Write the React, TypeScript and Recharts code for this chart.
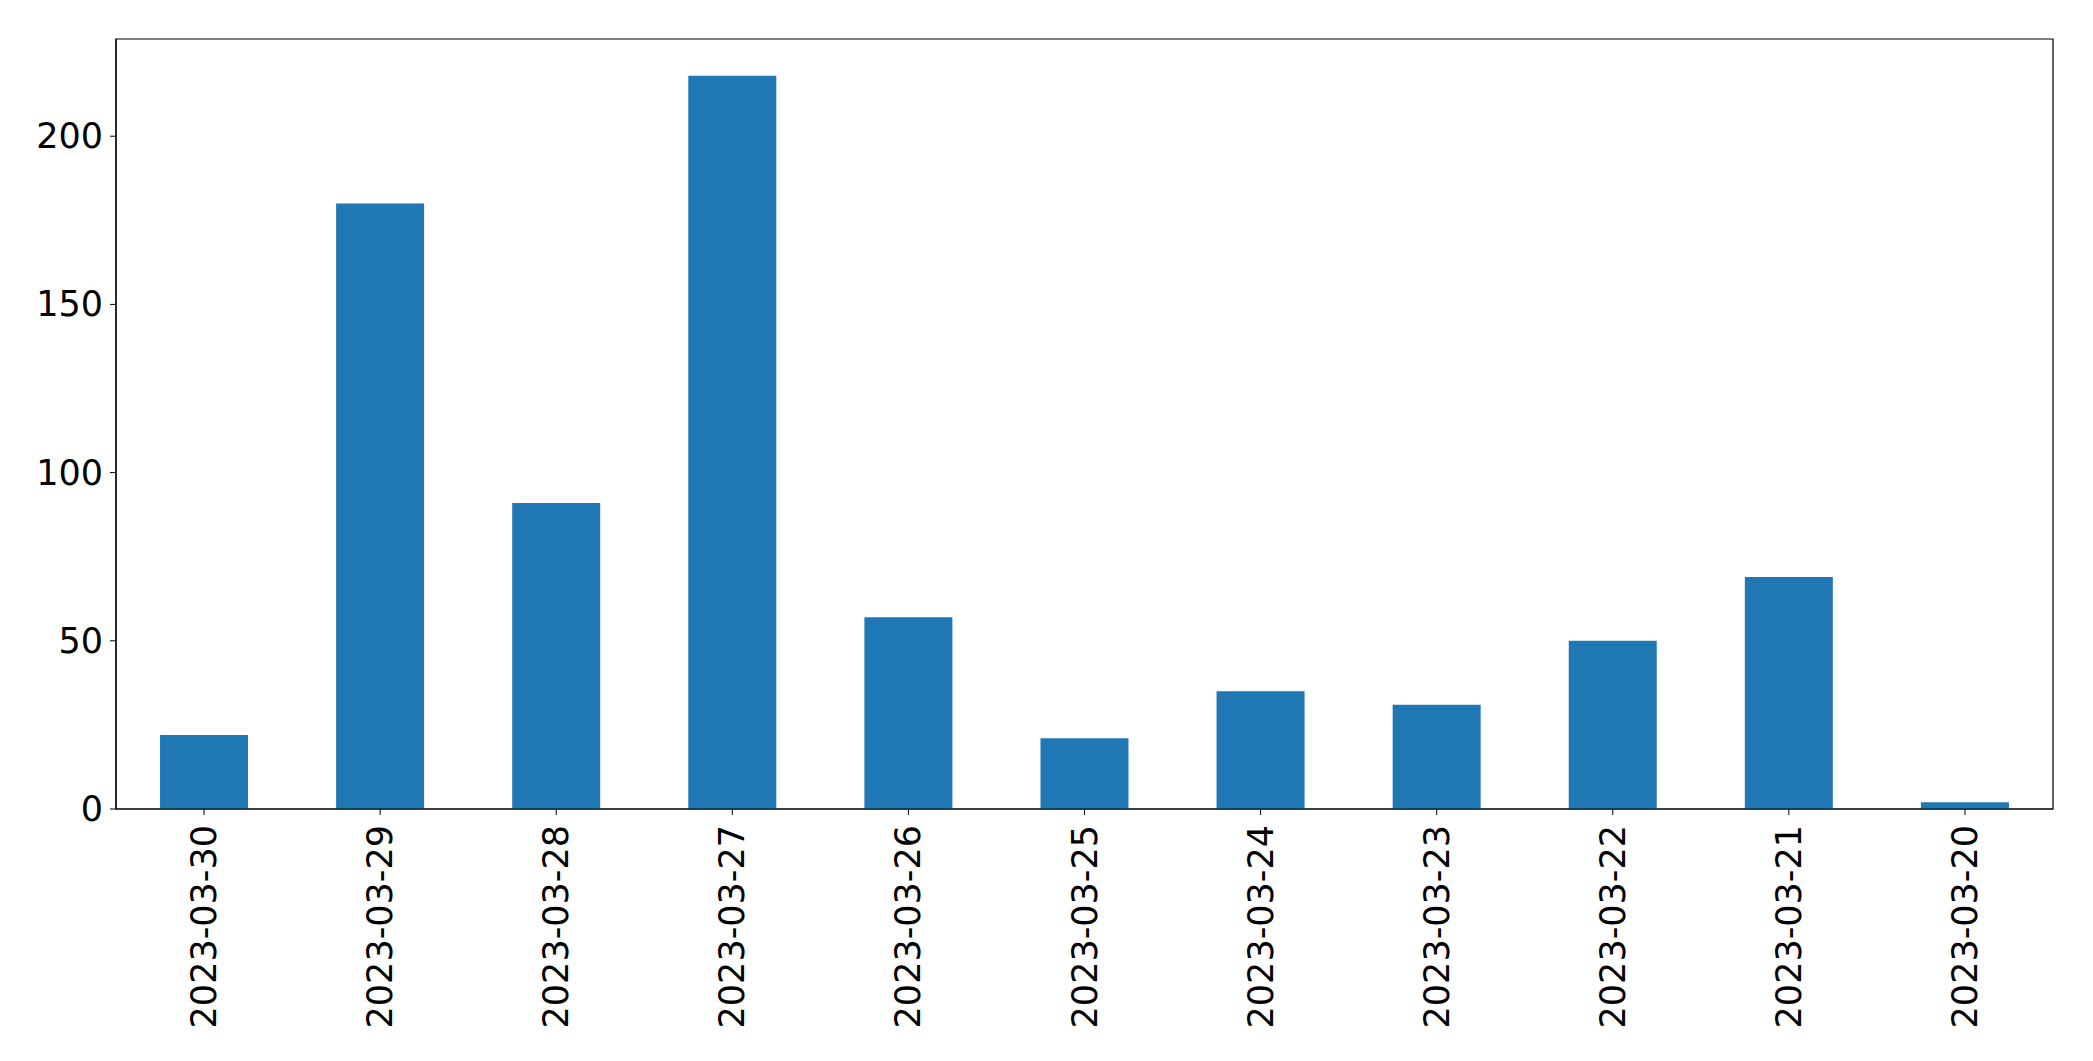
// @ts-nocheck
import React from 'react';
import { BarChart, Bar, XAxis, YAxis, ReferenceArea } from 'recharts';

const dates = [
  '2023-03-30',
  '2023-03-29',
  '2023-03-28',
  '2023-03-27',
  '2023-03-26',
  '2023-03-25',
  '2023-03-24',
  '2023-03-23',
  '2023-03-22',
  '2023-03-21',
  '2023-03-20',
];
const counts = [22, 180, 91, 218, 57, 21, 35, 31, 50, 69, 2];
const yTicks = [0, 50, 100, 150, 200];
const yMax = 228.9;

const data = dates.map((d, i) => ({ date: d, count: counts[i] }));

const FONT = 'DejaVu Sans, sans-serif';

const XTick = ({ x, y, payload }) => (
  <text
    x={x}
    y={y}
    transform={`rotate(-90, ${x}, ${y})`}
    textAnchor="end"
    dominantBaseline="central"
    fontFamily={FONT}
    fontSize={35}
    fill="#000"
  >
    {payload.value}
  </text>
);

const YTick = ({ x, y, payload }) => (
  <text
    x={x}
    y={y}
    textAnchor="end"
    dominantBaseline="central"
    fontFamily={FONT}
    fontSize={35}
    fill="#000"
  >
    {payload.value}
  </text>
);

export default function App() {
  return (
    <BarChart
      width={2077}
      height={1045}
      data={data}
      margin={{ top: 31, right: 32, bottom: 0, left: 0 }}
      barCategoryGap="25%"
    >
      <XAxis
        dataKey="date"
        tick={<XTick />}
        tickSize={6}
        tickMargin={10}
        interval={0}
        height={244}
        axisLine={{ stroke: '#000', strokeWidth: 1.2 }}
        tickLine={{ stroke: '#000' }}
      />
      <YAxis
        domain={[0, yMax]}
        ticks={yTicks}
        tick={<YTick />}
        tickSize={6}
        tickMargin={7}
        width={108}
        allowDataOverflow
        axisLine={{ stroke: '#000', strokeWidth: 1.2 }}
        tickLine={{ stroke: '#000' }}
      />
      <Bar dataKey="count" fill="#1f77b4" isAnimationActive={false} />
      {/* frame around the plot, like matplotlib's four spines */}
      <ReferenceArea
        y1={0}
        y2={yMax}
        fill="none"
        fillOpacity={0}
        stroke="#000"
        strokeWidth={1.2}
        ifOverflow="visible"
      />
    </BarChart>
  );
}
